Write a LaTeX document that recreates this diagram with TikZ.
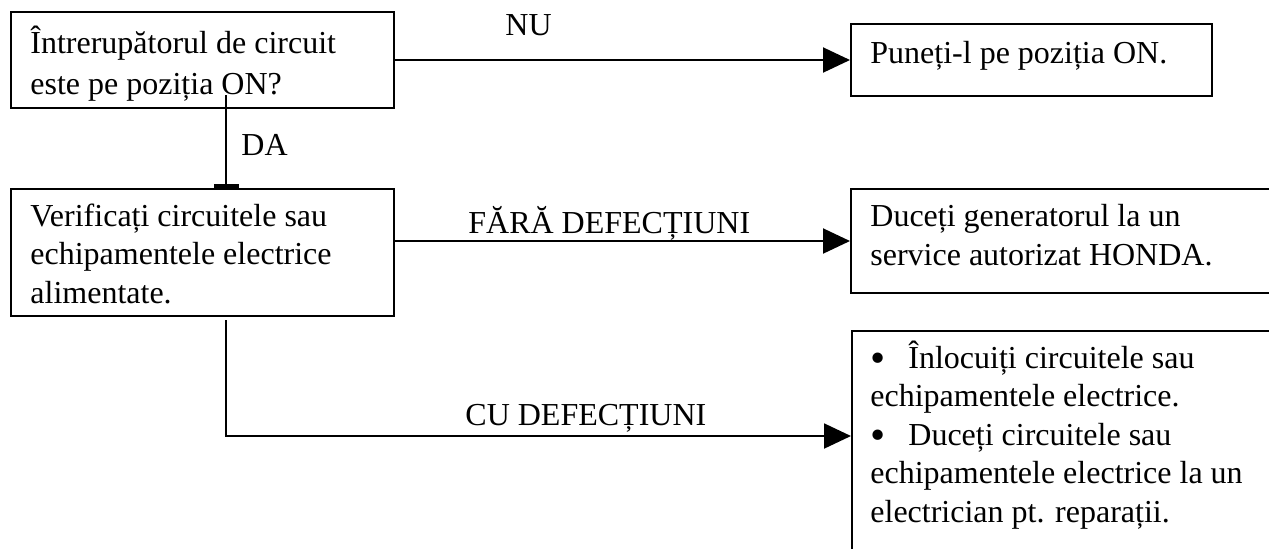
\documentclass[tikz,border=0pt]{standalone}
\usepackage{fontspec}
\setmainfont{Liberation Serif}
\usetikzlibrary{arrows.meta}
\newcommand{\bigbul}{\makebox[19pt][l]{\hspace{0.2pt}\raisebox{-2pt}{\scalebox{1.35}{•}}}}
\tikzset{
  box/.style={draw, line width=1pt, inner sep=0pt, anchor=north west},
  txt/.style={inner sep=0pt, anchor=base west, align=left, font=\fontsize{16pt}{19.2pt}\selectfont},
  arr/.style={line width=1pt, -{Triangle[length=13.5pt,width=12.5pt]}},
  tee/.style={line width=1pt, -{Rectangle[length=2pt,width=12.5pt]}}
}
\begin{document}
\begin{tikzpicture}[x=0.5pt,y=-0.5pt]
\clip (0,0) rectangle (1269,548);
\fill[white] (0,0) rectangle (1269,548);
% boxes
\node[box, minimum width=191.5pt, minimum height=48pt] (b1) at (10,11) {};
\node[box, minimum width=180.5pt, minimum height=36pt] (b2) at (850,23) {};
\node[box, minimum width=191.5pt, minimum height=63.5pt] (b3) at (10,188) {};
\node[box, minimum width=220pt, minimum height=52pt] (b4) at (850,188) {};
\node[box, minimum width=220pt, minimum height=120pt] (b5) at (851,330) {};
% texts (anchored at the baseline of the last line)
\node[txt, font=\fontsize{16pt}{20.5pt}\selectfont] (t1) at (30,94) {Întrerupătorul de circuit\\este pe poziția ON?};
\node[txt] (t2) at (870,63) {Puneți-l pe poziția ON.};
\node[txt] (t3) at (30,303) {Verificați circuitele sau\\echipamentele electrice\\alimentate.};
\node[txt] (t4) at (870,265) {Duceți generatorul la un\\service autorizat HONDA.};
\node[txt] (t5) at (870,522) {\bigbul Înlocuiți circuitele sau\\echipamentele electrice.\\\bigbul Duceți circuitele sau\\echipamentele electrice la un\\electrician pt. reparații.};
% labels
\node[txt] (lnu) at (505,35) {NU};
\node[txt] (lda) at (241,155) {DA};
\node[txt] (lfara) at (468,233) {FĂRĂ DEFECȚIUNI};
\node[txt] (lcu) at (465,425) {CU DEFECȚIUNI};
% connectors
\draw[arr] (b1.east) -- (b2.west);
\coordinate (dastart) at (226,95);
\draw[tee] (dastart) -- (dastart |- b3.north);
\draw[arr] (b3.east |- b4.west) -- (b4.west);
\coordinate (custart) at (226,320);
\draw[arr] (custart) |- ([yshift=-53pt]b5.north west);
\end{tikzpicture}
\end{document}
